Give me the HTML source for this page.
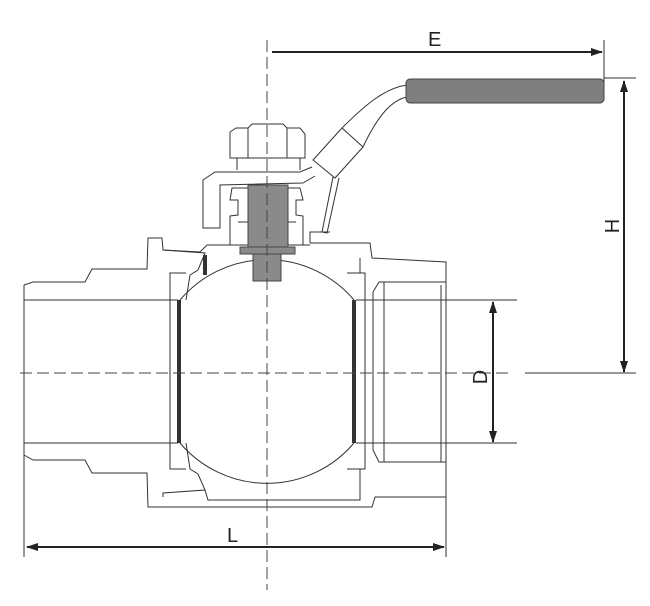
<!DOCTYPE html>
<html><head><meta charset="utf-8"><style>
html,body{margin:0;padding:0;background:#fff;width:650px;height:606px;overflow:hidden}
svg{display:block}
text{font-family:"Liberation Sans",sans-serif;font-size:20px;fill:#222}
</style></head><body>
<svg width="650" height="606" viewBox="0 0 650 606" xmlns="http://www.w3.org/2000/svg">
<defs>
<marker id="a" markerWidth="12" markerHeight="8" refX="11" refY="4" orient="auto-start-reverse" markerUnits="userSpaceOnUse"><path d="M0,0 L12,4 L0,8 Z" fill="#222"/></marker>
</defs>
<g fill="none" stroke="#333" stroke-width="1">
<path d="M24,285 L33,282 L85,282 L92,269 L147,269 L148,238 L162,238 L163,250 L200,252 L207,245 L310,245"/>
<path d="M24,455 L33,460 L85,460 L92,473 L147,473 L148,507 L372,507 L375,497 L446,497 L446,262 L372,258 L370,243 L310,243"/>
<path d="M24,285 L24,557"/>
<path d="M446,497 L446,557"/>
<path d="M24,300 L178,300 M356,300 L517,300"/>
<path d="M24,443 L178,443 M356,443 L517,443"/>
<path d="M186,273 L170,273 L170,469 L186,469"/>
<path d="M347,273 L365,273 L365,469 L347,469"/>
<path d="M163,250 L205,253 L198,270 L190,275 L186,300 M186,443 L190,469 L198,474 L205,490 L163,493 L163,497"/>
<path d="M205,490 L208,500 L360,500 L360,469"/>
<path d="M360,273 L360,258"/>
<path d="M373,292 L379,282 L446,282 M373,292 L373,450 L379,462 L446,462"/>
<path d="M384,282 L384,462 M441,285 L441,462"/>
<path d="M180,300 A114,114 0 0 1 354,300"/>
<path d="M180,443 A114,114 0 0 0 354,443"/>
<path d="M312,167 L300,172 L215,172 L203,180 L203,228 L220,228 L220,185 L303,183 L315,176"/>
<path d="M333,177 L322,232 L327,233 L339,178"/>
<path d="M310,243 L310,232 L330,232"/>
<path d="M230,132 L236,128 L248,128 L252,124 L283,124 L287,128 L300,128 L305,134 L305,158 L230,158 Z"/>
<path d="M248,128 L248,158 M287,128 L287,158"/>
<path d="M237,158 L237,170 M300,158 L300,170"/>
<path d="M248,188 L232,188 L230,200 L238,200 L238,215 L230,216 L230,245"/>
<path d="M288,188 L300,188 L303,200 L296,200 L296,215 L303,216 L303,245"/>
<path d="M238,222 L248,222 M296,222 L288,222"/>
<path d="M407,85 C385,88 365,105 342,128"/>
<path d="M407,97 C392,100 378,115 363,147"/>
<path d="M313,160 L342,128 L363,147 L335,178 Z"/>
<path d="M604,40 L604,100 M604,78 L636,78 M525,373 L636,373"/>
</g>
<rect x="406" y="79" width="198" height="24" rx="4" fill="#7f7f7f" stroke="#444"/>
<rect x="248" y="185" width="40" height="62" fill="#8a8a8a" stroke="#444"/>
<rect x="240" y="247" width="55" height="7" fill="#8a8a8a" stroke="#444"/>
<rect x="253" y="254" width="28" height="27" fill="#8a8a8a" stroke="#444"/>
<rect x="177" y="300" width="4" height="143" fill="#333"/>
<rect x="352" y="300" width="4" height="143" fill="#333"/>
<rect x="203" y="255" width="4" height="20" fill="#333"/>
<g stroke="#444" stroke-width="1" stroke-dasharray="12,5" fill="none">
<path d="M267,40 L267,590"/>
<path d="M20,373 L510,373"/>
</g>
<g stroke="#222" stroke-width="2" fill="none">
<path d="M272,52 L602,52" marker-end="url(#a)"/>
<path d="M27,547 L444,547" marker-start="url(#a)" marker-end="url(#a)"/>
<path d="M624,81 L624,372" marker-start="url(#a)" marker-end="url(#a)"/>
<path d="M493,302 L493,442" marker-start="url(#a)" marker-end="url(#a)"/>
</g>
<text x="428" y="46">E</text>
<text x="227" y="542">L</text>
<text transform="translate(619,226) rotate(-90)" text-anchor="middle">H</text>
<text transform="translate(487,377) rotate(-90)" text-anchor="middle">D</text>
</svg>
</body></html>
